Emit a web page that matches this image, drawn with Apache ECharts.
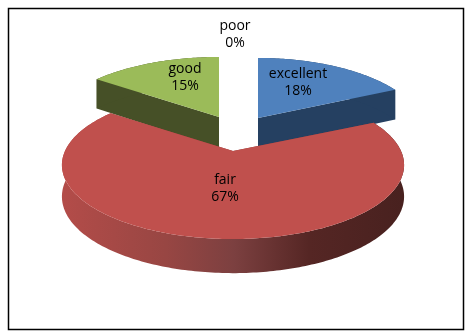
<!DOCTYPE html>
<html><head><meta charset="utf-8">
<style>html,body{margin:0;padding:0;background:#fff}#c{width:470px;height:335px}</style>
<script src="https://cdn.jsdelivr.net/npm/echarts@6/dist/echarts.min.js"></script>
</head><body><div id="c"></div>
<script>
const categories = ['excellent', 'fair', 'good', 'poor'];
const values = [18, 67, 15, 0];
const percentLabels = ['18%', '67%', '15%', '0%'];

// Drawing settings for the tilted, exploded pie
const K = 0.189, RX = 168, RY = 71.4, DEPTH = 31;
const apex = { excellent: [258, 118], fair: [233, 151], good: [219, 117], poor: [235, 100] };
const widthScale = { excellent: 0.975, fair: 1.0, good: 1.0, poor: 1.0 };
const labelAt = { excellent: [298, 74], fair: [225, 180], good: [185, 69], poor: [235, 26] };
const topColor = { excellent: '#4F81BD', fair: '#C0504D', good: '#9BBB59', poor: '#ffffff' };
const sideColor = { excellent: '#254061', fair: '#8a3d3a', good: '#465027', poor: '#ffffff' };
const drawOrder = ['good', 'poor', 'excellent', 'fair'];
const total = values.reduce((a, b) => a + b, 0);

function project(name, t, r) {
  const u = Math.sin(t) * r, v = Math.cos(t) * r, s = 1 + K * v, a = apex[name];
  return [a[0] + RX * widthScale[name] * u / s, a[1] - RY * v / s, DEPTH * (1 - 0.1 * v)];
}
function arc(name, t0, t1) {
  const n = Math.max(2, Math.ceil((t1 - t0) * 60)), pts = [];
  for (let i = 0; i <= n; i++) pts.push(project(name, t0 + (t1 - t0) * i / n, 1));
  return pts;
}
const flat = p => [p[0], p[1]];
const down = p => [p[0], p[1] + p[2]];

function sliceRange(name) {
  let acc = 0;
  for (let i = 0; i < categories.length; i++) {
    const a = acc / total * 2 * Math.PI;
    acc += values[i];
    if (categories[i] === name) return [a, acc / total * 2 * Math.PI];
  }
}

function renderItem(params) {
  const name = drawOrder[params.dataIndex];
  const [t0, t1] = sliceRange(name);
  const children = [];
  if (t1 > t0) {
    const pts = arc(name, t0, t1);
    const c = project(name, 0, 0);
    const rimFill = name === 'fair'
      ? new echarts.graphic.LinearGradient(63, 0, 405, 0, [
          { offset: 0, color: '#B34C49' },
          { offset: 0.3, color: '#984643' },
          { offset: 0.5, color: '#7C4040' },
          { offset: 0.72, color: '#552624' },
          { offset: 1, color: '#48211F' }
        ], true)
      : sideColor[name];
    // radial side faces
    [pts[0], pts[pts.length - 1]].forEach(e => {
      children.push({ type: 'polygon', shape: { points: [flat(c), flat(e), down(e), down(c)] },
        style: { fill: sideColor[name] } });
    });
    // outer rim
    children.push({ type: 'polygon',
      shape: { points: pts.map(flat).concat(pts.slice().reverse().map(down)) },
      style: { fill: rimFill } });
    // top face
    children.push({ type: 'polygon',
      shape: { points: [flat(c)].concat(pts.map(flat)) },
      style: { fill: topColor[name] } });
  }
  return { type: 'group', children };
}

const chart = echarts.init(document.getElementById('c'), null, { renderer: 'canvas' });
const textStyle = { fontFamily: 'Open Sans', fontSize: 14, fill: '#000', textAlign: 'center', textVerticalAlign: 'middle' };
const labelEls = [];
categories.forEach((n, i) => {
  const p = labelAt[n];
  labelEls.push({ type: 'text', z: 20, x: p[0], y: p[1], style: { ...textStyle, text: n } });
  labelEls.push({ type: 'text', z: 20, x: p[0], y: p[1] + 17.5, style: { ...textStyle, text: percentLabels[i] } });
});
chart.setOption({
  animation: false,
  backgroundColor: '#fff',
  graphic: [{ type: 'rect', z: 0, shape: { x: 8.5, y: 8.5, width: 455, height: 321 },
    style: { fill: '#fff', stroke: '#000', lineWidth: 1.5 } }].concat(labelEls),
  series: [{
    type: 'custom', coordinateSystem: 'none', z: 5, silent: true,
    data: drawOrder.map(n => ({ name: n, value: values[categories.indexOf(n)] })),
    renderItem
  }]
});
</script></body></html>
